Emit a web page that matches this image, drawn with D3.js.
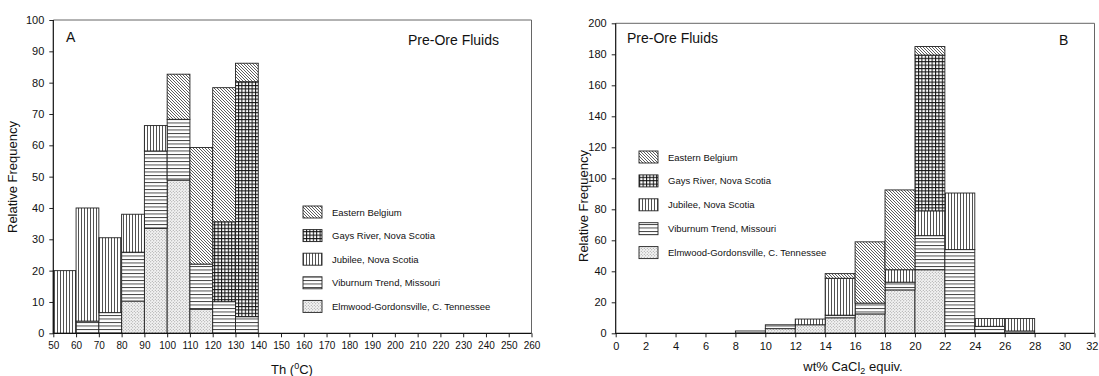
<!DOCTYPE html>
<html>
<head>
<meta charset="utf-8">
<script src="https://cdn.jsdelivr.net/npm/d3@7"></script>
<style>
  html, body { margin: 0; padding: 0; background: #fff; }
  svg { display: block; font-family: "Liberation Sans", Arial, Helvetica, sans-serif; }
  .tick text { fill: #111; }
</style>
</head>
<body>
<svg id="chart" width="1099" height="376"></svg>
<script>
// Localities, stacked bottom to top
const seriesKeys = ["elmwood", "viburnum", "jubilee", "gays", "belgium"];
const seriesLabels = ["Elmwood-Gordonsville, C. Tennessee", "Viburnum Trend, Missouri",
                      "Jubilee, Nova Scotia", "Gays River, Nova Scotia", "Eastern Belgium"];
const legendOrder = ["belgium", "gays", "jubilee", "viburnum", "elmwood"];

// Panel A: homogenization temperature bins (bin start, width 10 °C)
const binStartA = [50, 60, 70, 80, 90, 100, 110, 120, 130];
const elmwoodA  = [0, 0, 0, 10.3, 33.5, 48.9, 7.7, 0, 0];
const viburnumA = [0, 3.9, 6.6, 15.6, 24.7, 19.4, 14.4, 10.1, 5.3];
const jubileeA  = [20, 36.1, 23.9, 12.1, 8.1, 0, 0, 0, 0];
const gaysA     = [0, 0, 0, 0, 0, 0, 0, 25.5, 75];
const belgiumA  = [0, 0, 0, 0, 0, 14.4, 37.2, 42.8, 5.9];
const ticksXA = d3.range(50, 261, 10);
const ticksYA = d3.range(0, 101, 10);

// Panel B: salinity bins (bin start, width 2 wt%)
const binStartB = [8, 10, 12, 14, 16, 18, 20, 22, 24, 26];
const elmwoodB  = [0, 3, 5.5, 10, 12.5, 28, 41, 0, 0, 0];
const viburnumB = [1.5, 2.5, 0, 1.7, 7, 5, 22, 54, 4.5, 1.5];
const jubileeB  = [0, 0, 3.7, 23.8, 0, 8, 16, 36.5, 5, 8];
const gaysB     = [0, 0, 0, 0, 0, 0, 100.5, 0, 0, 0];
const belgiumB  = [0, 0, 0, 3, 39.5, 51.5, 5.5, 0, 0, 0];
const ticksXB = d3.range(0, 33, 2);
const ticksYB = d3.range(0, 201, 20);

const svg = d3.select("#chart");
svg.append("rect").attr("width", 1099).attr("height", 376).attr("fill", "#fff");

// Fill patterns
const defs = svg.append("defs");
function pattern(id, w, h, build) {
  const p = defs.append("pattern").attr("id", id)
    .attr("patternUnits", "userSpaceOnUse").attr("width", w).attr("height", h);
  p.append("rect").attr("width", w).attr("height", h).attr("fill", "#fff");
  build(p);
}
pattern("pat-belgium", 3, 3, p => p.append("path")
  .attr("d", "M-1,-1 L4,4 M-1,2 L1,4 M2,-1 L4,1")
  .attr("stroke", "#333").attr("stroke-width", 0.8));
pattern("pat-gays", 3.4, 3.4, p => p.append("path")
  .attr("d", "M0,0.5 H3.4 M0.5,0 V3.4")
  .attr("stroke", "#111").attr("stroke-width", 1.05));
pattern("pat-jubilee", 3, 3, p => p.append("path")
  .attr("d", "M0.5,0 V3")
  .attr("stroke", "#333").attr("stroke-width", 0.85));
pattern("pat-viburnum", 4, 3.5, p => p.append("path")
  .attr("d", "M0,0.5 H4")
  .attr("stroke", "#333").attr("stroke-width", 0.9));
pattern("pat-elmwood", 3, 3, p => {
  p.select("rect").attr("fill", "#f3f3f3");
  p.append("circle").attr("cx", 0.75).attr("cy", 0.75).attr("r", 0.5).attr("fill", "#888");
  p.append("circle").attr("cx", 2.25).attr("cy", 2.25).attr("r", 0.5).attr("fill", "#888");
});
const fillOf = k => `url(#pat-${k})`;

function drawPanel(cfg) {
  const x = d3.scaleLinear().domain(cfg.xDomain).range(cfg.xRange);
  const y = d3.scaleLinear().domain(cfg.yDomain).range(cfg.yRange);
  const g = svg.append("g");

  const rows = cfg.bins.map((b, i) => {
    const r = { bin: b };
    seriesKeys.forEach(k => r[k] = cfg.values[k][i]);
    return r;
  });
  const stacked = d3.stack().keys(seriesKeys)(rows);

  // frame (top and right sides)
  g.append("path")
    .attr("d", `M${cfg.xRange[0]},${cfg.yRange[1]} H${cfg.xRange[1]} V${cfg.yRange[0]}`)
    .attr("fill", "none").attr("stroke", "#666").attr("stroke-width", 1);

  // stacked bars
  stacked.forEach(layer => {
    g.append("g").selectAll("rect")
      .data(layer.filter(d => d[1] - d[0] > 0))
      .join("rect")
      .attr("x", d => x(d.data.bin))
      .attr("width", d => x(d.data.bin + cfg.binWidth) - x(d.data.bin))
      .attr("y", d => y(d[1]))
      .attr("height", d => y(d[0]) - y(d[1]))
      .attr("fill", fillOf(layer.key))
      .attr("stroke", "#222").attr("stroke-width", 0.9);
  });

  // axes
  const ax = g.append("g").attr("transform", `translate(0,${cfg.yRange[0]})`)
    .call(d3.axisBottom(x).tickValues(cfg.xTicks).tickSize(4).tickPadding(5).tickFormat(d3.format("d")));
  ax.select(".domain").remove();
  ax.selectAll("text").attr("font-size", cfg.xTickFont);
  ax.selectAll("line").attr("stroke", "#222");
  // keep the last label inside the page edge
  ax.selectAll(".tick text").filter(d => x(d) > 1088)
    .attr("text-anchor", "end").attr("x", 1098 - x(cfg.xTicks[cfg.xTicks.length - 1]));

  const ay = g.append("g").attr("transform", `translate(${cfg.xRange[0]},0)`)
    .call(d3.axisLeft(y).tickValues(cfg.yTicks).tickSize(4).tickPadding(5).tickFormat(d3.format("d")));
  ay.select(".domain").remove();
  ay.selectAll("text").attr("font-size", 11);
  ay.selectAll("line").attr("stroke", "#222");

  g.append("path")
    .attr("d", `M${cfg.xRange[0]},${cfg.yRange[1]} V${cfg.yRange[0]} H${cfg.xRange[1]}`)
    .attr("fill", "none").attr("stroke", "#111").attr("stroke-width", 1.2);

  // y-axis title
  g.append("text")
    .attr("transform", `translate(${cfg.yTitleX},${cfg.yTitleY}) rotate(-90)`)
    .attr("text-anchor", "middle").attr("font-size", 13).attr("fill", "#111")
    .text("Relative Frequency");

  // x-axis title
  cfg.xTitle(g.append("text")
    .attr("x", cfg.xTitleX).attr("y", cfg.xTitleY)
    .attr("text-anchor", "middle").attr("font-size", 13).attr("fill", "#111"));

  // panel annotations
  cfg.notes.forEach(n => g.append("text")
    .attr("x", n.x).attr("y", n.y).attr("font-size", 14).attr("fill", "#111").text(n.text));

  // legend
  const lg = g.append("g");
  legendOrder.forEach((k, i) => {
    const cy = cfg.legend.y0 + i * cfg.legend.dy;
    lg.append("rect")
      .attr("x", cfg.legend.x).attr("y", cy - 6)
      .attr("width", 19).attr("height", 12)
      .attr("fill", fillOf(k)).attr("stroke", "#222").attr("stroke-width", 0.9);
    lg.append("text")
      .attr("x", cfg.legend.x + 29).attr("y", cy + 3.5)
      .attr("font-size", 9.5).attr("fill", "#111")
      .text(seriesLabels[seriesKeys.indexOf(k)]);
  });
}

drawPanel({
  bins: binStartA, binWidth: 10,
  values: { elmwood: elmwoodA, viburnum: viburnumA, jubilee: jubileeA, gays: gaysA, belgium: belgiumA },
  xDomain: [50, 260], xRange: [53.3, 531.5],
  yDomain: [0, 100], yRange: [333.3, 20],
  xTicks: ticksXA, yTicks: ticksYA, xTickFont: 10,
  yTitleX: 17, yTitleY: 177,
  xTitleX: 292, xTitleY: 374,
  xTitle: t => { t.append("tspan").text("Th (");
                 t.append("tspan").attr("dy", -5).attr("font-size", 9).text("0");
                 t.append("tspan").attr("dy", 5).text("C)"); },
  notes: [{ text: "A", x: 66, y: 42 }, { text: "Pre-Ore Fluids", x: 408, y: 45 }],
  legend: { x: 303, y0: 212, dy: 23.6 }
});

drawPanel({
  bins: binStartB, binWidth: 2,
  values: { elmwood: elmwoodB, viburnum: viburnumB, jubilee: jubileeB, gays: gaysB, belgium: belgiumB },
  xDomain: [0, 32], xRange: [615.7, 1094.5],
  yDomain: [0, 200], yRange: [333.3, 23.3],
  xTicks: ticksXB, yTicks: ticksYB, xTickFont: 11,
  yTitleX: 588, yTitleY: 206,
  xTitleX: 853, xTitleY: 371,
  xTitle: t => { t.append("tspan").text("wt% CaCl");
                 t.append("tspan").attr("dy", 3).attr("font-size", 9).text("2");
                 t.append("tspan").attr("dy", -3).text(" equiv."); },
  notes: [{ text: "Pre-Ore Fluids", x: 627, y: 43 }, { text: "B", x: 1059, y: 45 }],
  legend: { x: 639, y0: 157, dy: 23.9 }
});
</script>
</body>
</html>
